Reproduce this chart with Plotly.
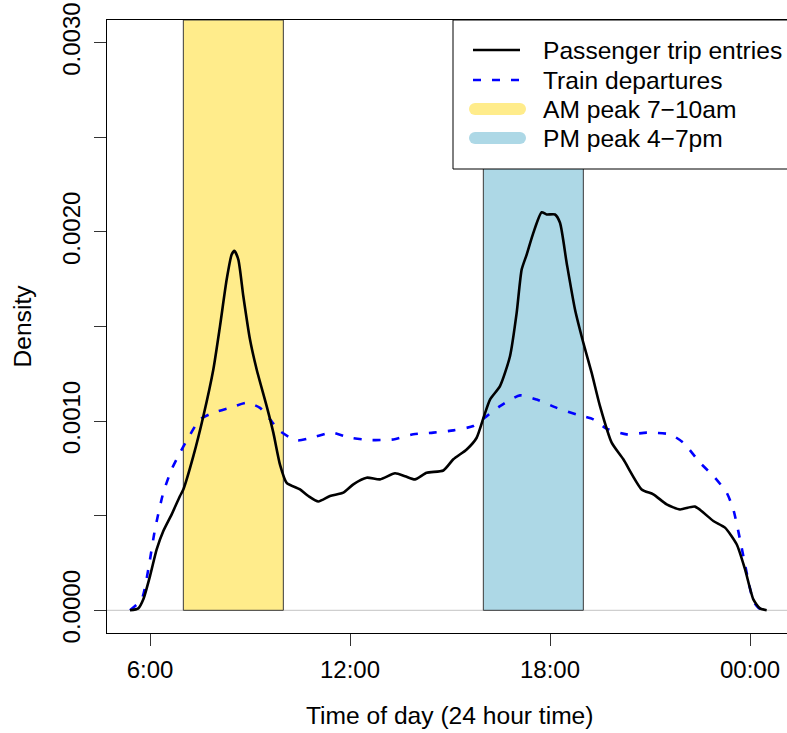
import plotly.graph_objects as go

# ---------------- data ----------------
pass_t = [5.40, 5.65, 5.80, 6.00, 6.20, 6.40, 6.65, 6.90, 7.00, 7.30, 7.60, 7.90, 8.10, 8.30,
          8.45, 8.53, 8.65, 8.80, 9.00, 9.20, 9.50, 9.70, 9.90, 10.10, 10.50, 10.75, 11.05,
          11.40, 11.80, 12.10, 12.50, 12.90, 13.35, 13.65, 13.95, 14.30, 14.80, 15.10, 15.50,
          15.80, 16.00, 16.20, 16.50, 16.80, 17.00, 17.15, 17.30, 17.50, 17.75, 17.90, 18.15,
          18.30, 18.50, 18.75, 19.00, 19.25, 19.50, 19.85, 20.20, 20.75, 21.10, 21.50, 21.90,
          22.35, 22.90, 23.25, 23.60, 23.85, 24.10, 24.30, 24.50]
pass_d = [0, 0.00001, 0.000058, 0.000181, 0.000322, 0.000419, 0.000507, 0.000604, 0.000639,
          0.000815, 0.001026, 0.001273, 0.001502, 0.001748, 0.00188, 0.0019, 0.001854, 0.00166,
          0.001431, 0.001273, 0.001079, 0.000939, 0.00077, 0.000674, 0.000639, 0.000604,
          0.000575, 0.000604, 0.000622, 0.000666, 0.000701, 0.000692, 0.000724, 0.000709,
          0.000692, 0.000727, 0.000739, 0.000798, 0.00085, 0.000912, 0.001015, 0.001114,
          0.001185, 0.001343, 0.001572, 0.001801, 0.00188, 0.001995, 0.002104, 0.002092,
          0.002092, 0.002048, 0.001836, 0.00159, 0.001414, 0.001255, 0.001079, 0.000886,
          0.000798, 0.000639, 0.000613, 0.00056, 0.000533, 0.000548, 0.000472, 0.000437,
          0.000349, 0.000217, 0.000058, 0.00001, 0]

train_t = [5.40, 5.75, 5.95, 6.15, 6.40, 6.65, 6.90, 7.15, 7.50, 7.90, 8.40, 8.90, 9.30, 9.60,
           9.90, 10.40, 10.90, 11.45, 12.00, 12.60, 13.30, 13.90, 14.50, 15.10, 15.70, 16.00,
           16.50, 17.10, 17.60, 18.20, 18.80, 19.30, 19.70, 20.30, 20.90, 21.60, 22.00, 22.50,
           22.90, 23.30, 23.50, 23.70, 23.90, 24.10, 24.25, 24.40]
train_d = [0, 0.000058, 0.000217, 0.000428, 0.000622, 0.000745, 0.000833, 0.000912, 0.001009,
           0.001044, 0.00107, 0.001097, 0.00107, 0.001009, 0.000947, 0.000898, 0.000915,
           0.000939, 0.000912, 0.0009, 0.000903, 0.00093, 0.000939, 0.000951, 0.000974,
           0.001012, 0.001079, 0.001136, 0.001114, 0.00107, 0.001035, 0.001009, 0.00096,
           0.00093, 0.000939, 0.00093, 0.000886, 0.00078, 0.00071, 0.000622, 0.000533,
           0.000375, 0.000199, 0.000049, 0.000014, 0]

am_peak = [7, 10]
pm_peak = [16, 19]

x_tick_vals = [6, 12, 18, 24]
x_tick_text = ["6:00", "12:00", "18:00", "00:00"]
y_tick_vals = [0, 0.0005, 0.001, 0.0015, 0.002, 0.0025, 0.003]
y_tick_text = ["0.0000", "", "0.0010", "", "0.0020", "", "0.0030"]

legend_labels = ["Passenger trip entries", "Train departures", "AM peak 7\u221210am", "PM peak 4\u22127pm"]

# ---------------- layout geometry ----------------
W, H = 787, 733
L, T, R, B = 107, 20, 787, 633
PW, PH = R - L, B - T
FONT = "Liberation Sans, Arial, Helvetica, sans-serif"
FS = 24
FS_TXT = 24.6
YELLOW = "#FFEC8B"
LBLUE = "#ADD8E6"


def px(xp):
    return (xp - L) / PW


def py(yp):
    return (B - yp) / PH


fig = go.Figure()

fig.add_trace(go.Scatter(x=train_t, y=train_d, mode="lines",
                         line=dict(color="#0000FF", width=2.6, dash="8px,11px", shape="spline", smoothing=0.6),
                         name=legend_labels[1], hoverinfo="skip"))
fig.add_trace(go.Scatter(x=pass_t, y=pass_d, mode="lines",
                         line=dict(color="black", width=2.6, shape="spline", smoothing=0.6),
                         name=legend_labels[0], hoverinfo="skip"))

shapes = []
# peak bands
for (a, b), col in [(am_peak, YELLOW), (pm_peak, LBLUE)]:
    shapes.append(dict(type="rect", xref="x", yref="y", x0=a, x1=b, y0=0, y1=0.00312,
                       fillcolor=col, line=dict(color="#3a3a3a", width=1), layer="below"))
# zero baseline
shapes.append(dict(type="line", xref="paper", yref="y", x0=0, x1=1, y0=0, y1=0,
                   line=dict(color="#cfcfcf", width=1.2), layer="below"))

# legend box
shapes.append(dict(type="rect", xref="paper", yref="paper", x0=px(453), x1=px(800),
                   y0=py(169), y1=py(20), fillcolor="white", line=dict(color="black", width=1),
                   layer="above"))
rows = [50, 80, 109, 138]
shapes.append(dict(type="line", xref="paper", yref="paper", x0=px(473), x1=px(520),
                   y0=py(rows[0]), y1=py(rows[0]), line=dict(color="black", width=2.6), layer="above"))
shapes.append(dict(type="line", xref="paper", yref="paper", x0=px(473), x1=px(520),
                   y0=py(rows[1]), y1=py(rows[1]),
                   line=dict(color="#0000FF", width=2.6, dash="8px,11px"), layer="above"))
for r, col in [(rows[2], YELLOW), (rows[3], LBLUE)]:
    rad = 6
    shapes.append(dict(type="rect", xref="paper", yref="paper", x0=px(475), x1=px(520),
                       y0=py(r + rad), y1=py(r - rad), fillcolor=col, line=dict(width=0), layer="above"))
    for cx in (475, 520):
        shapes.append(dict(type="circle", xref="paper", yref="paper", x0=px(cx - rad), x1=px(cx + rad),
                           y0=py(r + rad), y1=py(r - rad), fillcolor=col, line=dict(width=0),
                           layer="above"))

annotations = []
for r, lab in zip(rows, legend_labels):
    annotations.append(dict(text=lab, xref="paper", yref="paper", x=px(541), y=py(r + 0.5),
                            xanchor="left", yanchor="middle", showarrow=False,
                            font=dict(family=FONT, size=FS_TXT, color="black")))
annotations.append(dict(text="Density", xref="paper", yref="paper", x=px(22), y=py(326.5),
                        textangle=-90, xanchor="center", yanchor="middle", showarrow=False,
                        font=dict(family=FONT, size=FS_TXT, color="black")))
annotations.append(dict(text="Time of day (24 hour time)", xref="paper", yref="paper", x=px(449.5),
                        y=py(715), xanchor="center", yanchor="middle", showarrow=False,
                        font=dict(family=FONT, size=FS_TXT, color="black")))

fig.update_layout(
    width=W, height=H,
    margin=dict(l=L, r=W - R, t=T, b=H - B, pad=0),
    paper_bgcolor="white", plot_bgcolor="white",
    showlegend=False,
    shapes=shapes, annotations=annotations,
    font=dict(family=FONT, size=FS, color="black"),
    xaxis=dict(range=[6 + (L - 150) / 33.3333, 6 + (R - 150) / 33.3333],
               tickvals=x_tick_vals, ticktext=x_tick_text,
               showgrid=False, zeroline=False, showline=True, mirror=True,
               linecolor="black", linewidth=1, ticks="outside", ticklen=12, tickwidth=1,
               tickcolor="#333333", ticklabelstandoff=3,
               tickfont=dict(family=FONT, size=FS, color="black")),
    yaxis=dict(range=[-0.00012, 0.00312],
               tickvals=y_tick_vals, ticktext=y_tick_text, tickangle=-90,
               showgrid=False, zeroline=False, showline=True, mirror=False,
               linecolor="black", linewidth=1, ticks="outside", ticklen=12, tickwidth=1,
               tickcolor="#333333", ticklabelstandoff=4,
               tickfont=dict(family=FONT, size=FS, color="black")),
)

fig.write_html("out.html")
